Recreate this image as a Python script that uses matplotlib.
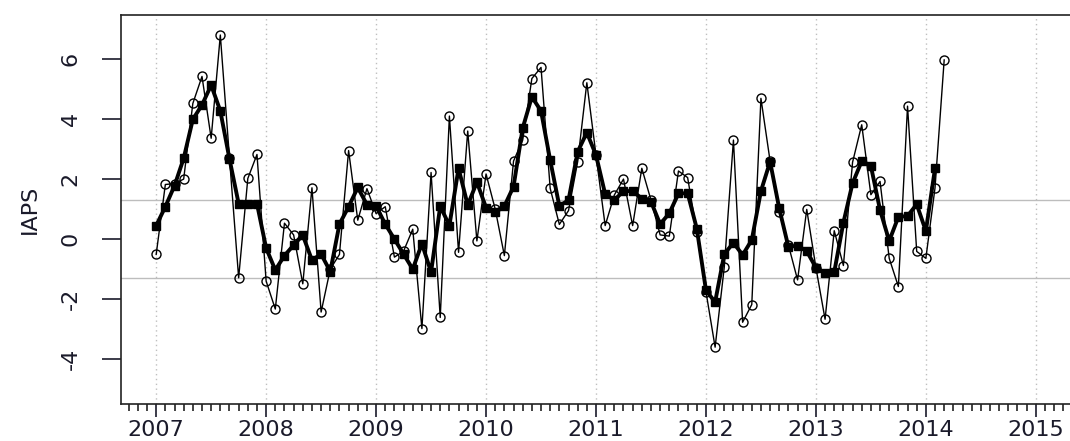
import numpy as np
import matplotlib
matplotlib.use("Agg")
import matplotlib.pyplot as plt
from matplotlib.ticker import MultipleLocator, FixedLocator

# ---- data (monthly, Jan 2007 onward) ----
start_year = 2007
iaps_raw = [
    -0.51, 1.82, 1.85, 2.00, 4.52, 5.42, 3.36, 6.80, 2.70, -1.29, 2.02, 2.82,   # 2007
    -1.40, -2.33, 0.53, 0.14, -1.49, 1.71, -2.43, -1.00, -0.51, 2.95, 0.63, 1.68,  # 2008
    0.85, 1.08, -0.60, -0.40, 0.33, -2.98, 2.22, -2.61, 4.10, -0.44, 3.60, -0.06,  # 2009
    2.17, 1.00, -0.55, 2.60, 3.30, 5.35, 5.72, 1.69, 0.49, 0.95, 2.58, 5.21,      # 2010
    2.80, 0.45, 1.47, 2.00, 0.45, 2.36, 1.30, 0.14, 0.10, 2.27, 2.05, 0.24,       # 2011
    -1.75, -3.60, -0.93, 3.30, -2.77, -2.18, 4.69, 2.60, 0.90, -0.20, -1.36, 0.99,  # 2012
    -0.95, -2.67, 0.28, -0.88, 2.56, 3.81, 1.48, 1.92, -0.64, -1.58, 4.43, -0.41,  # 2013
    -0.64, 1.71, 5.97,                                                          # 2014
]
iaps_smooth = [
    0.45, 1.08, 1.78, 2.69, 3.99, 4.47, 5.13, 4.27, 2.67, 1.18, 1.18, 1.18,     # 2007
    -0.30, -1.03, -0.55, -0.20, 0.13, -0.70, -0.50, -1.08, 0.50, 1.08, 1.72, 1.15,  # 2008
    1.10, 0.50, 0.00, -0.50, -1.00, -0.15, -1.10, 1.10, 0.45, 2.36, 1.13, 1.90,  # 2009
    1.05, 0.92, 1.10, 1.75, 3.70, 4.74, 4.27, 2.63, 1.10, 1.30, 2.91, 3.55,      # 2010
    2.80, 1.50, 1.30, 1.60, 1.60, 1.35, 1.25, 0.50, 0.86, 1.52, 1.53, 0.35,      # 2011
    -1.70, -2.10, -0.50, -0.12, -0.53, -0.03, 1.60, 2.58, 1.02, -0.26, -0.22, -0.40,  # 2012
    -0.95, -1.13, -1.10, 0.55, 1.86, 2.60, 2.44, 0.97, -0.06, 0.74, 0.77, 1.16,  # 2013
    0.27, 2.36,                                                                 # 2014
]
band_levels = [1.3, -1.3]
year_ticks = [2007, 2008, 2009, 2010, 2011, 2012, 2013, 2014, 2015]
y_ticks = [-4, -2, 0, 2, 4, 6]
y_label = "IAPS"

t_raw = start_year + np.arange(len(iaps_raw)) / 12.0
t_smooth = start_year + np.arange(len(iaps_smooth)) / 12.0

plt.rcParams['font.family'] = ['DejaVu Sans']

W, H = 1070, 441
fig = plt.figure(figsize=(W / 100, H / 100), dpi=100)
left_px, right_px = 121, 1071
top_px, bot_px = 14.6, 403.6
ax = fig.add_axes([left_px / W, 1 - bot_px / H, (right_px - left_px) / W, (bot_px - top_px) / H])

ax.set_xlim(2006.68, 2015.32)
ax.set_ylim(-5.48, 7.48)

# grid
for yr in year_ticks:
    ax.axvline(yr, color='#bfbfbf', lw=1.0, ls=(0, (1, 2.5)), zorder=1)
for lv in band_levels:
    ax.axhline(lv, color='#bdbdbd', lw=1.0, zorder=1)

# smoothed series
ax.plot(t_smooth, iaps_smooth, color='black', lw=2.8, marker='s', ms=6,
        mfc='black', mec='black', zorder=3)
# raw series
ax.plot(t_raw, iaps_raw, color='black', lw=1.0, marker='o', ms=6.5,
        mfc='none', mec='black', mew=1.0, zorder=4)

# axes styling
for s in ax.spines.values():
    s.set_linewidth(1.2)
    s.set_color('#222222')

txt_col = '#1a1a2a'
ax.xaxis.set_major_locator(FixedLocator(year_ticks))
ax.xaxis.set_minor_locator(MultipleLocator(1 / 12))
ax.set_xticklabels([str(y) for y in year_ticks])
ax.tick_params(axis='x', which='major', length=9, width=1.2, pad=3,
               labelsize=16, colors=txt_col)
ax.tick_params(axis='x', which='minor', length=5, width=1.2, color='#222222')

ax.yaxis.set_major_locator(FixedLocator(y_ticks))
ax.set_yticklabels([str(v) for v in y_ticks], rotation=90, va='center')
ax.tick_params(axis='y', which='major', length=14, width=1.2, pad=15,
               labelsize=16, colors=txt_col)
ax.set_ylabel(y_label, fontsize=16, color=txt_col, labelpad=15)

fig.savefig("out.png", dpi=100)
